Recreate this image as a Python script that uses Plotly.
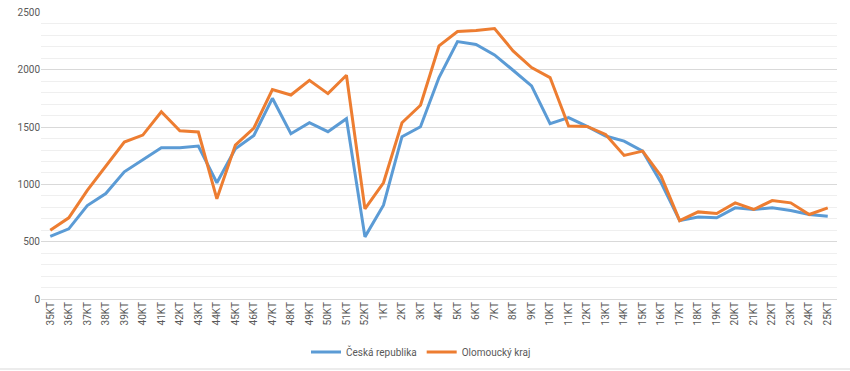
import plotly.graph_objects as go

categories = [f"{w}KT" for w in range(35, 53)] + [f"{w}KT" for w in range(1, 26)]

cr_values = [547, 612, 815, 920, 1110, 1218, 1320, 1320, 1334, 1014,
             1310, 1427, 1751, 1442, 1538, 1460, 1573, 542, 818, 1416,
             1503, 1932, 2246, 2220, 2130, 1996, 1859, 1529, 1582, 1506,
             1422, 1378, 1290, 1014, 684, 716, 708, 795, 781, 795,
             772, 737, 722]

olk_values = [600, 708, 947, 1159, 1369, 1430, 1634, 1468, 1457, 874,
              1343, 1492, 1827, 1780, 1908, 1792, 1952, 786, 1014, 1538,
              1690, 2208, 2334, 2342, 2360, 2165, 2019, 1932, 1509, 1506,
              1436, 1253, 1290, 1072, 684, 760, 746, 839, 781, 859,
              839, 737, 795]

series_names = ["Česká republika", "Olomoucký kraj"]
y_ticks = [0, 500, 1000, 1500, 2000, 2500]

W, H = 850, 371
ML, MR, MT, MB = 41, 13, 12, 72

fig = go.Figure()
fig.add_trace(go.Scatter(x=categories, y=cr_values, name=series_names[0], mode="lines",
                         line=dict(color="#5B9BD5", width=3)))
fig.add_trace(go.Scatter(x=categories, y=olk_values, name=series_names[1], mode="lines",
                         line=dict(color="#ED7D31", width=3)))

pw, ph = W - ML - MR, H - MT - MB
font_fam = "Roboto, 'Open Sans', sans-serif"
fig.update_layout(
    width=W, height=H,
    margin=dict(l=ML, r=MR, t=MT, b=MB, autoexpand=False),
    paper_bgcolor="white", plot_bgcolor="white",
    font=dict(family=font_fam, size=10, color="#595959"),
    showlegend=True,
    legend=dict(orientation="h", x=0.5 - 4 / W, xanchor="center", xref="container",
                y=1 - 352 / H, yanchor="middle", yref="container",
                font=dict(size=10, color="#595959"), itemwidth=30, tracegroupgap=0),
    xaxis=dict(type="category", tickangle=-90, showgrid=False, zeroline=False,
               showline=False, ticks="", tickfont=dict(size=10, color="#595959"),
               range=[-0.5, len(categories) - 0.5], automargin=False),
    yaxis=dict(range=[0, 2504], tickvals=y_ticks, showgrid=True, gridcolor="#d9d9d9",
               gridwidth=1, zeroline=True, zerolinecolor="#d9d9d9", zerolinewidth=1,
               showline=False, ticks="", tickfont=dict(size=10, color="#595959"),
               automargin=False,
               minor=dict(dtick=100, showgrid=True, gridcolor="#efefef", gridwidth=1)),
    shapes=[dict(type="line", xref="paper", yref="paper", x0=-ML / pw, x1=1 + MR / pw,
                 y0=-(369 - (H - MB)) / ph, y1=-(369 - (H - MB)) / ph,
                 line=dict(color="#d9d9d9", width=1))],
)

# remove the browser's default 8px body margin so the figure fills the window
fig.write_html("out.html", config={"displayModeBar": False},
               post_script="document.body.style.margin='0px';")
